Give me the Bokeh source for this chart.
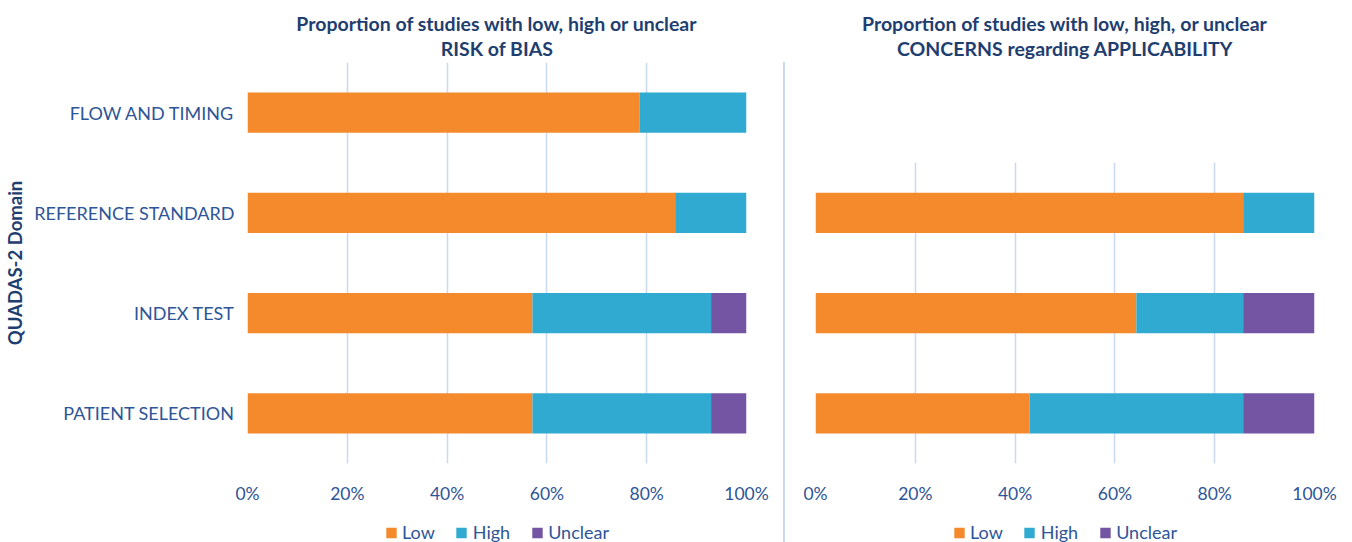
from bokeh.plotting import figure
from bokeh.layouts import row, column
from bokeh.models import (ColumnDataSource, FactorRange, Range1d, FixedTicker,
                          PrintfTickFormatter, Legend, LegendItem, Div, Title,
                          BoxAnnotation)
from bokeh.embed import file_html
from bokeh.resources import INLINE

# ---------------- data ----------------
domains = ["PATIENT SELECTION", "INDEX TEST", "REFERENCE STANDARD", "FLOW AND TIMING"]

bias_domains = ["PATIENT SELECTION", "INDEX TEST", "REFERENCE STANDARD", "FLOW AND TIMING"]
bias_low = [57.1, 57.1, 85.7, 78.6]
bias_high = [35.8, 35.8, 14.3, 21.4]
bias_unclear = [7.1, 7.1, 0.0, 0.0]

app_domains = ["PATIENT SELECTION", "INDEX TEST", "REFERENCE STANDARD"]
app_low = [42.9, 64.3, 85.7]
app_high = [42.8, 21.4, 14.3]
app_unclear = [14.3, 14.3, 0.0]

x_ticks = [0, 20, 40, 60, 80, 100]
series = ["Low", "High", "Unclear"]
colors = ["#F48A2C", "#30AAD0", "#7455A3"]

title_bias = ["Proportion of studies with low, high or unclear", "RISK of BIAS"]
title_app = ["Proportion of studies with low, high, or unclear",
             "CONCERNS regarding APPLICABILITY"]
y_title = "QUADAS-2 Domain"

TITLE_C = "#1F3E70"
TICK_C = "#2E5597"
GRID_C = "#C9DAF0"
FONT = "Lato"
MAIN_H = 510
LEG_H = 542 - MAIN_H


def style_title(t, standoff):
    t.align = "center"
    t.text_font = FONT
    t.text_font_size = "19.5px"
    t.text_font_style = "bold"
    t.text_color = TITLE_C
    t.standoff = standoff


def panel(dom, low, high, unclear, titles, width, bl, br, show_y, mask_top):
    src = ColumnDataSource(dict(domain=dom, low=low, high=high, unclear=unclear))
    p = figure(width=width, height=MAIN_H, y_range=FactorRange(factors=domains, range_padding=0),
               x_range=Range1d(0, 100), output_backend="svg", toolbar_location=None,
               title=titles[0], min_border_left=bl, min_border_right=br,
               min_border_top=62, min_border_bottom=MAIN_H - 463)
    p.hbar_stack(["low", "high", "unclear"], y="domain", height=0.4,
                 color=colors, line_color=None, source=src)
    style_title(p.title, -5)
    t2 = Title(text=titles[1])
    style_title(t2, 5)
    p.add_layout(t2, "above")
    p.outline_line_color = None
    p.ygrid.grid_line_color = None
    p.xgrid.ticker = FixedTicker(ticks=x_ticks)
    p.xgrid.grid_line_color = GRID_C
    p.xgrid.grid_line_width = 1.5
    if mask_top:
        p.add_layout(BoxAnnotation(bottom=len(dom), fill_color="white", fill_alpha=1,
                                   line_color=None, level="underlay"))
    p.xaxis.ticker = FixedTicker(ticks=x_ticks)
    p.xaxis.formatter = PrintfTickFormatter(format="%d%%")
    p.xaxis.axis_line_color = None
    p.xaxis.major_tick_line_color = None
    p.xaxis.minor_tick_line_color = None
    p.xaxis.major_tick_out = 0
    p.xaxis.major_label_standoff = 19
    p.xaxis.major_label_text_font = FONT
    p.xaxis.major_label_text_font_size = "17.5px"
    p.xaxis.major_label_text_color = TICK_C
    if show_y:
        p.yaxis.axis_line_color = None
        p.yaxis.major_tick_line_color = None
        p.yaxis.major_tick_out = 0
        p.yaxis.major_label_standoff = 13
        p.yaxis.major_label_text_font = FONT
        p.yaxis.major_label_text_font_size = "18px"
        p.yaxis.major_label_text_color = TICK_C
        p.yaxis.axis_label = y_title
        p.yaxis.axis_label_text_font = FONT
        p.yaxis.axis_label_text_font_size = "18.5px"
        p.yaxis.axis_label_text_font_style = "bold"
        p.yaxis.axis_label_text_color = TITLE_C
        p.yaxis.axis_label_standoff = 5
    else:
        p.yaxis.visible = False
    return p, src


def legend_fig(src, dom, width, bl, br, margin):
    # legend proxies: same stacked series, zero height and outside the visible x range
    lf = figure(width=width, height=LEG_H, x_range=Range1d(101, 102),
                y_range=FactorRange(factors=dom), output_backend="svg",
                toolbar_location=None, title=None,
                min_border_left=bl, min_border_right=br, min_border_top=0,
                min_border_bottom=0)
    lf.axis.visible = False
    lf.grid.visible = False
    lf.outline_line_color = None
    rs = lf.hbar_stack(["low", "high", "unclear"], y="domain", height=0,
                       color=colors, line_color=None, source=src)
    legend = Legend(items=[LegendItem(label=s, renderers=[r]) for s, r in zip(series, rs)],
                    orientation="horizontal", location="top_center",
                    glyph_width=13, glyph_height=13, label_standoff=5, spacing=20,
                    padding=0, margin=margin, border_line_color=None,
                    background_fill_alpha=0, label_text_font=FONT,
                    label_text_font_size="18px", label_text_color=TICK_C)
    lf.add_layout(legend, "center")
    return lf


p1, s1 = panel(bias_domains, bias_low, bias_high, bias_unclear, title_bias,
               783, 247, 37, True, False)
p2, s2 = panel(app_domains, app_low, app_high, app_unclear, title_app,
               567, 30, 38, False, True)
sep1 = Div(text="", width=2, height=MAIN_H - 62, margin=(62, 0, 0, 0),
           styles={"background-color": GRID_C})
l1 = legend_fig(s1, bias_domains, 783, 247, 37, 11)
l2 = legend_fig(s2, app_domains, 567, 30, 38, 11)
sep2 = Div(text="", width=2, height=LEG_H, margin=(0, 0, 0, 0),
           styles={"background-color": GRID_C})

layout = column(row(p1, sep1, p2), row(l1, sep2, l2))
open("out.html", "w").write(file_html(layout, INLINE))
